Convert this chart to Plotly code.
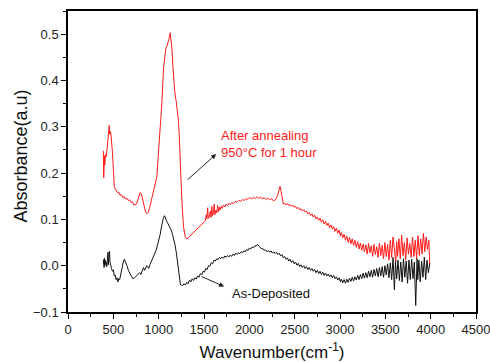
import plotly.graph_objects as go

# ---- data ----
red_wn = [390, 394, 398, 402, 406, 412, 420, 430, 440, 448, 455, 460, 466, 472, 480, 490, 500, 510, 520, 530,
          545, 560, 575, 590, 605, 620, 635, 650, 665, 680, 695, 710, 725, 740, 755, 770, 785, 797, 810, 825,
          840, 855, 870, 885, 900, 920, 940, 960, 980, 998, 1017, 1035, 1054, 1068, 1080, 1090, 1100, 1115, 1127, 1136,
          1146, 1155, 1164, 1178, 1193, 1206, 1219, 1230, 1237, 1249, 1262, 1275, 1293, 1311, 1330, 1350, 1375, 1400, 1425, 1450,
          1476, 1500, 1515, 1525, 1531, 1540, 1548, 1560, 1570, 1578, 1586, 1594, 1605, 1612, 1620, 1632, 1642, 1650, 1660, 1670,
          1678, 1690, 1700, 1715, 1730, 1745, 1760, 1775, 1790, 1805, 1825, 1845, 1865, 1885, 1905, 1925, 1945, 1965, 1985, 2005,
          2025, 2045, 2065, 2085, 2105, 2125, 2145, 2165, 2185, 2205, 2225, 2245, 2265, 2285, 2300, 2312, 2321, 2330, 2339, 2348,
          2357, 2366, 2376, 2390, 2405, 2420, 2435, 2450, 2465, 2480, 2495, 2510, 2525, 2540, 2555, 2570, 2585, 2600, 2615, 2630,
          2645, 2660, 2675, 2690, 2705, 2720, 2735, 2750, 2765, 2780, 2795, 2810, 2825, 2840, 2855, 2870, 2885, 2900, 2915, 2930,
          2945, 2960, 2975, 2990, 3005, 3015, 3030, 3045, 3060, 3075, 3090, 3105, 3120, 3135, 3150, 3165, 3180, 3195, 3210, 3225,
          3240, 3255, 3270, 3285, 3300, 3315, 3330, 3345, 3360, 3375, 3390, 3405, 3420, 3435, 3450, 3465, 3480, 3495, 3510, 3525,
          3540, 3555, 3570, 3585, 3600, 3615, 3625, 3635, 3650, 3665, 3680, 3695, 3710, 3725, 3740, 3755, 3770, 3785, 3800, 3815,
          3830, 3845, 3860, 3875, 3890, 3905, 3920, 3935, 3950, 3965, 3980, 3990, 4000]
red_abs = [0.248, 0.190, 0.212, 0.237, 0.218, 0.240, 0.235, 0.250, 0.272, 0.290, 0.303, 0.284, 0.290, 0.287, 0.270, 0.245, 0.210, 0.172, 0.166, 0.163,
           0.158, 0.159, 0.152, 0.153, 0.147, 0.149, 0.144, 0.146, 0.141, 0.142, 0.137, 0.138, 0.131, 0.132, 0.133, 0.142, 0.152, 0.158, 0.155, 0.140,
           0.125, 0.116, 0.112, 0.115, 0.125, 0.142, 0.158, 0.172, 0.192, 0.245, 0.298, 0.350, 0.427, 0.455, 0.470, 0.474, 0.480, 0.490, 0.503, 0.490,
           0.470, 0.435, 0.400, 0.375, 0.355, 0.335, 0.312, 0.270, 0.226, 0.170, 0.120, 0.083, 0.062, 0.058, 0.061, 0.065, 0.070, 0.075, 0.081, 0.086,
           0.090, 0.095, 0.097, 0.110, 0.101, 0.125, 0.102, 0.106, 0.118, 0.104, 0.128, 0.108, 0.115, 0.133, 0.110, 0.120, 0.114, 0.130, 0.117, 0.126,
           0.120, 0.128, 0.124, 0.131, 0.127, 0.133, 0.130, 0.135, 0.132, 0.136, 0.134, 0.139, 0.137, 0.141, 0.139, 0.143, 0.141, 0.145, 0.143, 0.147,
           0.144, 0.148, 0.145, 0.149, 0.145, 0.148, 0.144, 0.147, 0.143, 0.146, 0.142, 0.145, 0.140, 0.142, 0.146, 0.152, 0.158, 0.165, 0.171, 0.162,
           0.150, 0.138, 0.133, 0.135, 0.131, 0.134, 0.130, 0.132, 0.128, 0.131, 0.126, 0.128, 0.123, 0.126, 0.121, 0.123, 0.118, 0.121, 0.116, 0.118,
           0.112, 0.115, 0.108, 0.112, 0.105, 0.109, 0.101, 0.105, 0.098, 0.103, 0.094, 0.099, 0.090, 0.096, 0.087, 0.092, 0.082, 0.088, 0.079, 0.085,
           0.074, 0.081, 0.070, 0.077, 0.064, 0.072, 0.060, 0.068, 0.055, 0.064, 0.050, 0.061, 0.047, 0.058, 0.044, 0.055, 0.040, 0.052, 0.036, 0.049,
           0.033, 0.047, 0.030, 0.045, 0.025, 0.048, 0.028, 0.043, 0.020, 0.046, 0.024, 0.041, 0.018, 0.048, 0.022, 0.044, 0.015, 0.050, 0.020, 0.046,
           0.012, 0.055, 0.018, 0.062, 0.025, 0.008, 0.052, 0.020, 0.058, 0.015, 0.066, 0.022, 0.050, 0.012, 0.060, 0.025, 0.048, 0.018, 0.062, 0.020,
           0.055, 0.015, 0.065, 0.022, 0.058, 0.025, 0.070, 0.030, 0.062, 0.035, 0.055, 0.002]

black_wn = [390, 394, 398, 402, 406, 410, 415, 420, 428, 435, 441, 445, 452, 458, 463, 470, 480, 490, 500, 510,
            520, 530, 540, 550, 560, 570, 580, 595, 610, 622, 635, 650, 668, 685, 700, 715, 730, 745, 760, 775,
            790, 804, 818, 833, 845, 858, 870, 880, 890, 905, 925, 945, 965, 980, 1000, 1017, 1035, 1050, 1065, 1078,
            1090, 1105, 1115, 1127, 1140, 1152, 1164, 1180, 1195, 1208, 1220, 1230, 1240, 1252, 1265, 1280, 1295, 1310, 1325, 1340,
            1355, 1370, 1385, 1400, 1415, 1430, 1445, 1460, 1475, 1490, 1505, 1520, 1535, 1550, 1565, 1580, 1595, 1610, 1625, 1640,
            1655, 1670, 1685, 1700, 1715, 1730, 1745, 1760, 1775, 1790, 1805, 1820, 1835, 1850, 1865, 1880, 1895, 1910, 1925, 1940,
            1955, 1970, 1985, 2000, 2015, 2030, 2045, 2060, 2075, 2090, 2105, 2120, 2135, 2150, 2165, 2180, 2195, 2210, 2225, 2240,
            2255, 2270, 2285, 2300, 2315, 2330, 2345, 2360, 2375, 2390, 2405, 2420, 2435, 2450, 2465, 2480, 2495, 2510, 2525, 2540,
            2555, 2570, 2585, 2600, 2615, 2630, 2645, 2660, 2675, 2690, 2705, 2720, 2735, 2750, 2765, 2780, 2795, 2810, 2825, 2840,
            2855, 2870, 2885, 2900, 2915, 2930, 2945, 2960, 2975, 2990, 3005, 3015, 3030, 3045, 3060, 3075, 3090, 3105, 3120, 3135,
            3150, 3165, 3180, 3195, 3210, 3225, 3240, 3255, 3270, 3285, 3300, 3315, 3330, 3345, 3360, 3375, 3390, 3405, 3420, 3435,
            3450, 3465, 3480, 3495, 3510, 3525, 3540, 3555, 3570, 3585, 3600, 3612, 3625, 3640, 3655, 3670, 3685, 3700, 3715, 3730,
            3745, 3760, 3775, 3790, 3805, 3820, 3835, 3850, 3858, 3870, 3885, 3900, 3915, 3930, 3945, 3960, 3975, 3990, 4000]
black_abs = [0.004, 0.013, -0.004, 0.016, 0.000, 0.012, 0.003, 0.008, -0.002, 0.010, 0.029, 0.002, 0.015, 0.031, 0.008, 0.000, -0.006, -0.012, -0.009, -0.022,
             -0.020, -0.030, -0.026, -0.035, -0.028, -0.030, -0.018, -0.005, 0.008, 0.014, 0.009, 0.000, -0.011, -0.018, -0.024, -0.028, -0.027, -0.024, -0.020, -0.018,
             -0.015, -0.019, -0.012, -0.004, -0.010, -0.004, 0.000, -0.002, -0.006, 0.003, 0.011, 0.020, 0.030, 0.039, 0.052, 0.068, 0.088, 0.102, 0.108, 0.100,
             0.095, 0.090, 0.086, 0.083, 0.076, 0.068, 0.060, 0.045, 0.028, 0.008, -0.018, -0.035, -0.041, -0.042, -0.043, -0.039, -0.042, -0.036, -0.039, -0.031,
             -0.035, -0.028, -0.032, -0.026, -0.029, -0.022, -0.025, -0.017, -0.020, -0.012, -0.014, -0.006, -0.008, 0.000, -0.001, 0.006, 0.004, 0.012, 0.010, 0.015,
             0.013, 0.018, 0.015, 0.019, 0.016, 0.021, 0.018, 0.022, 0.019, 0.023, 0.020, 0.025, 0.022, 0.027, 0.024, 0.028, 0.026, 0.030, 0.028, 0.032,
             0.030, 0.035, 0.033, 0.038, 0.036, 0.040, 0.039, 0.043, 0.042, 0.046, 0.042, 0.040, 0.036, 0.037, 0.033, 0.034, 0.030, 0.033, 0.029, 0.032,
             0.027, 0.030, 0.026, 0.029, 0.024, 0.027, 0.021, 0.024, 0.017, 0.020, 0.014, 0.017, 0.010, 0.014, 0.007, 0.011, 0.004, 0.008, 0.001, 0.005,
             -0.002, 0.002, -0.004, 0.000, -0.006, -0.002, -0.008, -0.004, -0.010, -0.006, -0.012, -0.008, -0.015, -0.010, -0.017, -0.012, -0.019, -0.014, -0.021, -0.016,
             -0.022, -0.018, -0.024, -0.020, -0.026, -0.021, -0.028, -0.024, -0.031, -0.026, -0.035, -0.029, -0.037, -0.030, -0.038, -0.029, -0.036, -0.027, -0.034, -0.025,
             -0.033, -0.024, -0.031, -0.021, -0.030, -0.019, -0.028, -0.016, -0.027, -0.015, -0.026, -0.012, -0.024, -0.010, -0.025, -0.008, -0.022, -0.006, -0.024, -0.004,
             -0.022, -0.002, -0.025, 0.000, -0.020, 0.004, -0.026, 0.006, -0.030, 0.018, -0.052, 0.010, -0.028, 0.012, -0.032, 0.008, -0.035, 0.015, -0.025,
             0.010, -0.038, 0.012, -0.030, 0.014, -0.028, 0.008, -0.086, 0.015, -0.030, 0.012, -0.035, 0.010, -0.025, 0.018, -0.030, 0.012, -0.015, 0.005]

x_ticks = [0, 500, 1000, 1500, 2000, 2500, 3000, 3500, 4000, 4500]
y_ticks = [-0.1, 0.0, 0.1, 0.2, 0.3, 0.4, 0.5]

x_title = "Wavenumber(cm<sup>-1</sup>)"
y_title = "Absorbance(a.u)"
label_after = "After annealing<br>950°C for 1 hour"
label_asdep = "As-Deposited"

fig = go.Figure()
fig.add_trace(go.Scatter(x=red_wn, y=red_abs, mode="lines",
                         line=dict(color="#ff1a1a", width=1), showlegend=False))
fig.add_trace(go.Scatter(x=black_wn, y=black_abs, mode="lines",
                         line=dict(color="#111111", width=1), showlegend=False))

font = "Arial, Liberation Sans, sans-serif"
axis_common = dict(showline=True, linecolor="black", linewidth=1.5, mirror=True,
                   ticks="outside", ticklen=5, tickwidth=1.2, tickcolor="black",
                   showgrid=False, zeroline=False, ticklabeloverflow="allow", automargin=False,
                   tickfont=dict(family=font, size=13, color="#222222"))

fig.update_xaxes(range=[x_ticks[0], x_ticks[-1]], tickmode="linear", tick0=x_ticks[0],
                 dtick=x_ticks[1] - x_ticks[0],
                 minor=dict(ticks="outside", ticklen=3, dtick=(x_ticks[1] - x_ticks[0]) / 2,
                            tickcolor="black", tickwidth=1.2),
                 title=dict(text=x_title, font=dict(family=font, size=17, color="#111111"),
                            standoff=21),
                 **axis_common)
fig.update_yaxes(range=[y_ticks[0], 0.55], tickmode="linear", tick0=y_ticks[0],
                 dtick=0.1, tickformat=".1f",
                 minor=dict(ticks="outside", ticklen=3, dtick=0.05, tickcolor="black", tickwidth=1.2),
                 **axis_common)

# y-axis title as rotated annotation
fig.add_annotation(x=-0.115, y=0.517, xref="paper", yref="paper", text=y_title, showarrow=False,
                   textangle=-90, xanchor="center", yanchor="middle",
                   font=dict(family=font, size=18, color="#111111"))

# arrows (head near the label)
fig.add_annotation(x=1634, y=0.241, ax=1304, ay=0.183, xref="x", yref="y", axref="x", ayref="y",
                   text="", showarrow=True, arrowhead=2, arrowsize=1, arrowwidth=1, arrowcolor="#222222")
fig.add_annotation(x=1722, y=-0.045, ax=1458, ay=-0.022, xref="x", yref="y", axref="x", ayref="y",
                   text="", showarrow=True, arrowhead=2, arrowsize=1, arrowwidth=1, arrowcolor="#222222")
fig.add_annotation(x=1670, y=0.262, xref="x", yref="y", text=label_after, showarrow=False,
                   xanchor="left", yanchor="middle", align="left",
                   font=dict(family=font, size=13, color="#ff1a1a"))
fig.add_annotation(x=1790, y=-0.061, xref="x", yref="y", text=label_asdep, showarrow=False,
                   xanchor="left", yanchor="middle", align="left",
                   font=dict(family=font, size=13, color="#111111"))

fig.update_layout(width=490, height=362, margin=dict(l=68, r=14, t=11, b=50),
                  plot_bgcolor="white", paper_bgcolor="white")

fig.write_html("out.html")
